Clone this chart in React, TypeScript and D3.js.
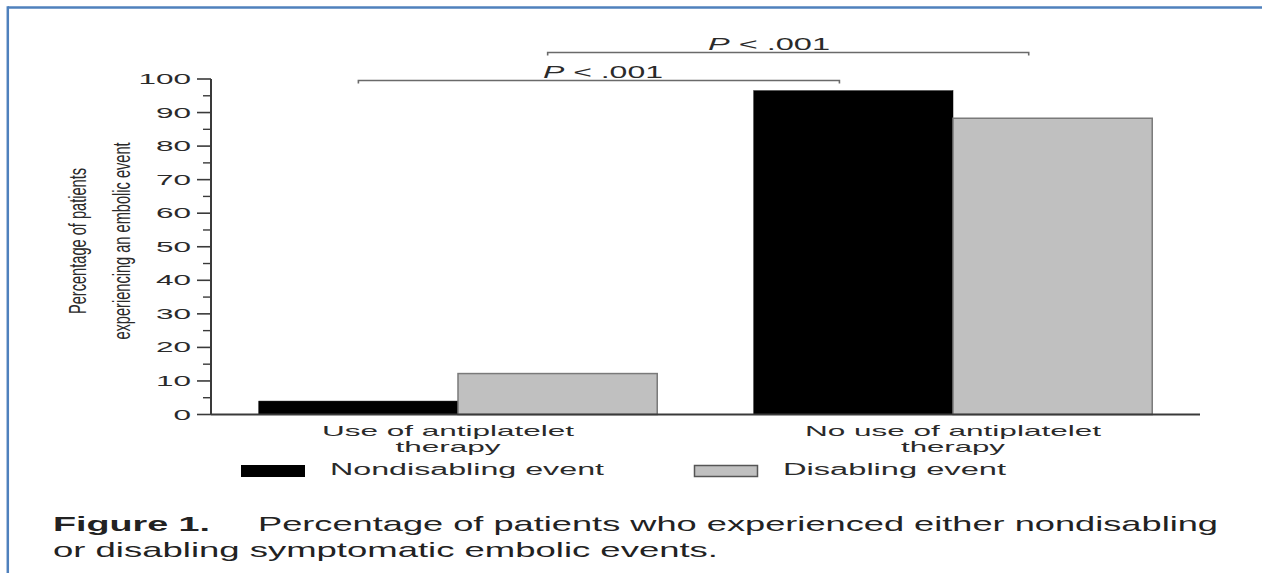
import React from "react";
import * as d3 from "d3";

// ---- data ----
const categories = ["Use of antiplatelet\ntherapy", "No use of antiplatelet\ntherapy"];
const seriesNames = ["Nondisabling event", "Disabling event"];
const nondisabling = [4.0, 96.5];
const disabling = [12.2, 88.3];
const yTickValues = [0, 10, 20, 30, 40, 50, 60, 70, 80, 90, 100];
const yMinorTickValues = [5, 15, 25, 35, 45, 55, 65, 75, 85, 95];
const pLabels = ["P < .001", "P < .001"];
const yAxisLabel = ["Percentage of patients", "experiencing an embolic event"];
const captionBold = "Figure 1.";
const captionLine1 = "Percentage of patients who experienced either nondisabling";
const captionLine2 = "or disabling symptomatic embolic events.";

const W = 1262;
const H = 573;
const FONT = "'Liberation Sans', Arial, Helvetica, sans-serif";
const colors = ["#000000", "#c0c0c0"];
const strokes = ["#000000", "#7a7a7a"];

export default function App() {
  const x0 = d3.scaleBand<number>().domain([0, 1]).range([211, 1200]).paddingInner(0.195).paddingOuter(0.0965);
  const x1 = d3.scaleBand<number>().domain([0, 1]).range([0, x0.bandwidth()]).padding(0);
  const y = d3.scaleLinear().domain([0, 100]).range([414.5, 79]);
  const series = [nondisabling, disabling];
  const axisX = 211;
  const baseY = y(0);

  const barPos = (g: number, s: number, frac: number) => (x0(g) as number) + (x1(s) as number) + frac * x1.bandwidth();
  const brackets = [
    { x1: barPos(0, 0, 0.5), x2: barPos(1, 0, 0.43), y: 80.5, label: pLabels[0], lx: 543, lw: 120, ly: 78 },
    { x1: barPos(0, 1, 0.45), x2: barPos(1, 1, 0.38), y: 52.5, label: pLabels[1], lx: 708, lw: 122, ly: 50 },
  ];

  return (
    <svg width={W} height={H} style={{ position: "absolute", left: 0, top: 0, background: "#fff" }} fontFamily={FONT}>
      <rect x={0} y={0} width={W} height={H} fill="#fff" />
      {/* frame */}
      <line x1={7.8} y1={7.5} x2={W} y2={7.5} stroke="#4f81bd" strokeWidth={2.5} />
      <line x1={7.8} y1={6.3} x2={7.8} y2={H} stroke="#4f81bd" strokeWidth={2.5} />

      {/* bars */}
      {categories.map((_, g) =>
        series.map((vals, s) => (
          <rect
            key={`b${g}-${s}`}
            x={(x0(g) as number) + (x1(s) as number)}
            y={y(vals[g])}
            width={x1.bandwidth()}
            height={baseY - y(vals[g])}
            fill={colors[s]}
            stroke={strokes[s]}
            strokeWidth={s === 1 ? 1.5 : 0.5}
          />
        ))
      )}

      {/* y axis */}
      <line x1={axisX} y1={y(100)} x2={axisX} y2={baseY} stroke="#3a3a3a" strokeWidth={2} />
      {yTickValues.map((t) => (
        <g key={`t${t}`}>
          <line x1={axisX - 14} x2={axisX} y1={y(t)} y2={y(t)} stroke="#3a3a3a" strokeWidth={1.6} />
          <text
            transform={`translate(191,${y(t)}) scale(2.25,1)`}
            textAnchor="end"
            dy="0.36em"
            fontSize={14}
            fill="#2a2a2a"
          >
            {t}
          </text>
        </g>
      ))}
      {yMinorTickValues.map((t) => (
        <line key={`m${t}`} x1={axisX - 8} x2={axisX} y1={y(t)} y2={y(t)} stroke="#3a3a3a" strokeWidth={1.4} />
      ))}
      {/* x axis */}
      <line x1={axisX} y1={baseY} x2={1200} y2={baseY} stroke="#3a3a3a" strokeWidth={2} />

      {/* y axis label */}
      <text transform={`translate(86,241) scale(1.7,1) rotate(-90)`} textAnchor="middle" fontSize={14.6} fill="#2a2a2a">
        {yAxisLabel[0]}
      </text>
      <text transform={`translate(130,241) scale(1.7,1) rotate(-90)`} textAnchor="middle" fontSize={14.6} fill="#2a2a2a">
        {yAxisLabel[1]}
      </text>

      {/* category labels */}
      {categories.map((c, g) => {
        const lines = c.split("\n");
        const cx = (x0(g) as number) + x0.bandwidth() / 2 - (g === 0 ? 10 : 0);
        const widths = g === 0 ? [252, 105] : [296, 104];
        return lines.map((ln, i) => (
          <text
            key={`c${g}-${i}`}
            x={cx}
            y={436 + i * 16}
            textAnchor="middle"
            fontSize={15}
            fill="#2a2a2a"
            textLength={widths[i]}
            lengthAdjust="spacingAndGlyphs"
          >
            {ln}
          </text>
        ));
      })}

      {/* legend */}
      <rect x={241} y={465} width={64} height={12} fill={colors[0]} />
      <text x={330} y={475} fontSize={16} fill="#2a2a2a" textLength={274} lengthAdjust="spacingAndGlyphs">
        {seriesNames[0]}
      </text>
      <rect x={694.5} y={465.5} width={63} height={11} fill={colors[1]} stroke="#555" strokeWidth={1.5} />
      <text x={783} y={475} fontSize={16} fill="#2a2a2a" textLength={223} lengthAdjust="spacingAndGlyphs">
        {seriesNames[1]}
      </text>

      {/* significance brackets */}
      {brackets.map((b, i) => (
        <g key={`br${i}`}>
          <path
            d={`M${b.x1},${b.y + 3}V${b.y}H${b.x2}V${b.y + 3}`}
            fill="none"
            stroke="#6a6a6a"
            strokeWidth={1.6}
          />
          <text x={b.lx} y={b.ly} fontSize={16} fill="#2a2a2a" textLength={b.lw} lengthAdjust="spacingAndGlyphs">
            <tspan fontStyle="italic">P</tspan>
            {b.label.slice(1)}
          </text>
        </g>
      ))}

      {/* caption */}
      <text x={53} y={531} fontSize={21} fontWeight="bold" fill="#222" textLength={157} lengthAdjust="spacingAndGlyphs">
        {captionBold}
      </text>
      <text x={258} y={531} fontSize={21} fill="#222" textLength={960} lengthAdjust="spacingAndGlyphs">
        {captionLine1}
      </text>
      <text x={53} y={557} fontSize={21} fill="#222" textLength={665} lengthAdjust="spacingAndGlyphs">
        {captionLine2}
      </text>
    </svg>
  );
}
